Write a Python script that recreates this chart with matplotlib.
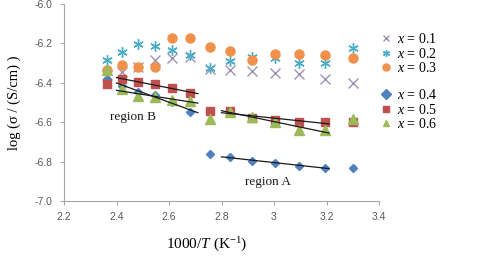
import numpy as np
import matplotlib
matplotlib.use("Agg")
import matplotlib.pyplot as plt

# ---- data ----
inv_T = [2.364, 2.421, 2.481, 2.545, 2.611, 2.681, 2.755, 2.833, 2.915, 3.003, 3.096, 3.195, 3.300]
x01 = [-6.36, -6.345, -6.32, -6.284, -6.276, -6.27, -6.33, -6.335, -6.34, -6.352, -6.357, -6.382, -6.40]
x02 = [-6.284, -6.242, -6.205, -6.215, -6.233, -6.259, -6.326, -6.29, -6.267, -6.276, -6.301, -6.301, -6.222]
x03 = [-6.335, -6.31, -6.318, -6.32, -6.171, -6.171, -6.22, -6.239, -6.284, -6.255, -6.255, -6.259, -6.276]
x04 = [-6.38, -6.415, -6.445, -6.462, -6.496, -6.547, -6.763, -6.775, -6.797, -6.809, -6.82, -6.83, -6.834]
x05 = [-6.406, -6.382, -6.394, -6.408, -6.428, -6.45, -6.543, -6.543, -6.577, -6.589, -6.597, -6.597, -6.597]
x06 = [-6.335, -6.432, -6.465, -6.472, -6.487, -6.49, -6.584, -6.548, -6.572, -6.597, -6.64, -6.64, -6.584]
labels = ["x = 0.1", "x = 0.2", "x = 0.3", "x = 0.4", "x = 0.5", "x = 0.6"]
xticks = [2.2, 2.4, 2.6, 2.8, 3.0, 3.2, 3.4]
xticklabels = ["2.2", "2.4", "2.6", "2.8", "3", "3.2", "3.4"]
yticks = [-7.0, -6.8, -6.6, -6.4, -6.2, -6.0]
regionB_idx = [1, 2, 3, 4, 5]
regionA_idx = [7, 8, 9, 10, 11]
regionB_span = [2.40, 2.71]
regionA_span = [2.80, 3.21]

colors = ["#a093b8", "#4bacc6", "#f0904a", "#4f81bd", "#c0504d", "#9bbb59"]
series = [x01, x02, x03, x04, x05, x06]
markers = ["x", (6, 2, 0), "o", "D", "s", "^"]
msizes = [6.5, 7.5, 6.5, 4.5, 6, 6.5]

plt.rcParams["font.family"] = ["Liberation Serif", "DejaVu Serif"]
plt.rcParams["mathtext.fontset"] = "custom"
plt.rcParams["mathtext.rm"] = "Liberation Serif"
plt.rcParams["mathtext.it"] = "Liberation Serif:italic"

fig = plt.figure(figsize=(4.8, 2.59), dpi=100)
ax = fig.add_axes([64 / 480, 1 - 201 / 259, (379 - 64) / 480, (201 - 4) / 259])

handles = []
xs = np.array(inv_T)
for ys, c, m, ms in zip(series, colors, markers, msizes):
    if m == "x" or isinstance(m, tuple):
        h, = ax.plot(xs, ys, linestyle="none", marker=m, ms=ms, color=c, mew=1.0)
    else:
        h, = ax.plot(xs, ys, linestyle="none", marker=m, ms=ms, color=c, mec=c)
    handles.append(h)

# trend lines
for ys in (x04, x05, x06):
    ya = np.array(ys)
    for idx, span in ((regionB_idx, regionB_span), (regionA_idx, regionA_span)):
        k, b = np.polyfit(xs[idx], ya[idx], 1)
        sx = np.array(span)
        ax.plot(sx, k * sx + b, color="#1a1a1a", lw=0.9, zorder=3)

ax.text(2.463, -6.572, "region B", ha="center", va="center", fontsize=9.5, color="#1a1a1a")
ax.text(2.977, -6.902, "region A", ha="center", va="center", fontsize=9.5, color="#1a1a1a")

ax.set_xlim(2.2, 3.4)
ax.set_ylim(-7.0, -6.0)
ax.set_xticks(xticks)
ax.set_xticklabels(xticklabels)
ax.set_yticks(yticks)
ax.set_yticklabels([f"{v:.1f}" for v in yticks])
for lab in ax.get_xticklabels() + ax.get_yticklabels():
    lab.set_family(["Liberation Sans", "DejaVu Sans"])
    lab.set_fontsize(7.5)
    lab.set_color("#595959")
ax.tick_params(axis="both", direction="out", length=3, width=0.8, color="#a6a6a6", pad=5)
for s in ("top", "right"):
    ax.spines[s].set_visible(False)
for s in ("left", "bottom"):
    ax.spines[s].set_color("#a6a6a6")
    ax.spines[s].set_linewidth(0.8)

ax.set_ylabel("log (σ / (S/cm) )", fontsize=10.5, labelpad=10)
fig.text(207 / 480, 1 - 245 / 259, "1000/$\\mathit{T}$ (K$^{-1}$)", ha="center", va="center", fontsize=11)

def leg_labels(ls):
    return ["$\\mathit{x}$ = " + l.split("= ")[1] for l in ls]

leg_kw = dict(loc="upper left", bbox_transform=fig.transFigure, frameon=False, fontsize=10,
              handlelength=0.8, handletextpad=0.4, labelspacing=0.04, borderpad=0, borderaxespad=0)
leg1 = fig.legend(handles[:3], leg_labels(labels[:3]), bbox_to_anchor=(380 / 480, 1 - 32 / 259), **leg_kw)
leg2 = fig.legend(handles[3:], leg_labels(labels[3:]), bbox_to_anchor=(380 / 480, 1 - 88 / 259), **leg_kw)
for leg in (leg1, leg2):
    for h in leg.legend_handles:
        h.set_markersize(5)

fig.savefig("out.png", dpi=100)
